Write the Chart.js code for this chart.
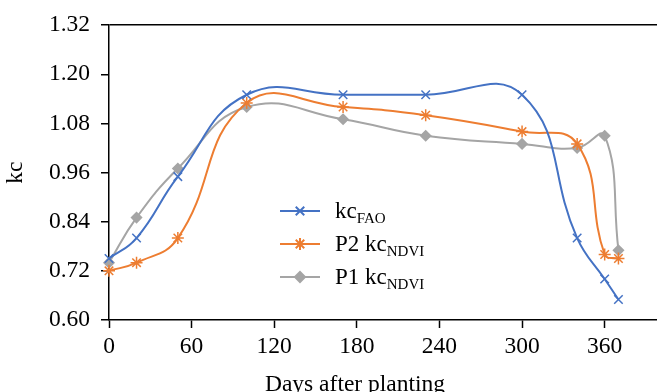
<!DOCTYPE html>
<html>
<head>
<meta charset="utf-8">
<script src="https://cdn.jsdelivr.net/npm/chart.js@4.4.1/dist/chart.umd.min.js"></script>
<style>
  html, body { margin: 0; padding: 0; background: #fff; }
  #wrap { width: 657px; height: 392px; position: relative; }
</style>
</head>
<body>
<div id="wrap"><canvas id="kcChart"></canvas></div>
<script>
// datos
const dias = [0, 20, 50, 100, 170, 230, 300, 340, 360, 370];
const kcFAO = [0.75, 0.80, 0.95, 1.15, 1.15, 1.15, 1.15, 0.80, 0.70, 0.65];
const kcP2 = [0.72, 0.74, 0.80, 1.13, 1.12, 1.10, 1.06, 1.03, 0.76, 0.75];
const kcP1 = [0.74, 0.85, 0.97, 1.12, 1.09, 1.05, 1.03, 1.02, 1.05, 0.77];
const yTicks = [0.60, 0.72, 0.84, 0.96, 1.08, 1.20, 1.32];
const xTicks = [0, 60, 120, 180, 240, 300, 360];

const azul = '#4472C4';
const naranja = '#ED7D31';
const gris = '#A5A5A5';
const fuente = '"Liberation Serif"';

const series = [
    { base: 'kc', sub: 'FAO', data: kcFAO, color: azul, style: 'crossRot', r: 6 },
    { base: 'P2 kc', sub: 'NDVI', data: kcP2, color: naranja, style: 'star', r: 6 },
    { base: 'P1 kc', sub: 'NDVI', data: kcP1, color: gris, style: 'rectRot', r: 5 }
];

// leyenda y titulo del eje x dibujados a mano (subindices)
const extras = {
    id: 'extras',
    afterDraw(chart) {
        const ctx = chart.ctx;
        ctx.save();
        ctx.fillStyle = '#000';
        ctx.font = '23.5px ' + fuente;
        ctx.textAlign = 'center';
        ctx.textBaseline = 'alphabetic';
        ctx.fillText('Days after planting', 355, 391);

        const filas = [211, 244, 277];
        series.forEach((s, i) => {
            const y = filas[i];
            ctx.strokeStyle = s.color;
            ctx.fillStyle = s.color;
            ctx.lineWidth = 2;
            ctx.beginPath();
            ctx.moveTo(280, y);
            ctx.lineTo(320, y);
            ctx.stroke();
            Chart.helpers.drawPoint(ctx, {
                pointStyle: s.style, radius: s.r, borderWidth: 1.5
            }, 300, y);

            ctx.fillStyle = '#000';
            ctx.textAlign = 'left';
            ctx.font = '23px ' + fuente;
            ctx.fillText(s.base, 335, y + 7);
            const w = ctx.measureText(s.base).width;
            ctx.font = '15px ' + fuente;
            ctx.fillText(s.sub, 335 + w, y + 12);
        });
        ctx.restore();
    }
};

function crearGrafico() {
    new Chart(document.getElementById('kcChart'), {
        type: 'line',
        data: {
            datasets: series.map(s => ({
                label: s.base + s.sub,
                data: dias.map((d, i) => ({ x: d, y: s.data[i] })),
                borderColor: s.color,
                backgroundColor: s.color,
                borderWidth: 2,
                pointStyle: s.style,
                pointRadius: s.r,
                pointBorderWidth: 1.5,
                tension: 0.45,
                fill: false,
                clip: false
            }))
        },
        options: {
            responsive: true,
            maintainAspectRatio: false,
            animation: false,
            layout: { autoPadding: false, padding: { top: 23, left: 0, right: 0, bottom: 0 } },
            plugins: {
                legend: { display: false },
                tooltip: { enabled: false }
            },
            scales: {
                x: {
                    type: 'linear',
                    min: 0,
                    max: 398,
                    afterBuildTicks: scale => { scale.ticks = xTicks.map(v => ({ value: v })); },
                    afterFit: scale => { scale.height = 72; },
                    border: { color: '#000', width: 1.5 },
                    grid: { drawOnChartArea: false, drawTicks: true, tickLength: 8, tickColor: '#000', tickWidth: 1.5 },
                    ticks: { color: '#000', font: { family: fuente, size: 23.5 }, padding: 5, maxRotation: 0 }
                },
                y: {
                    min: 0.60,
                    max: 1.32,
                    afterBuildTicks: scale => { scale.ticks = yTicks.map(v => ({ value: v })); },
                    afterFit: scale => { scale.width = 109; },
                    border: { color: '#000', width: 1.5 },
                    grid: {
                        drawOnChartArea: true,
                        color: c => (c.tick && Math.abs(c.tick.value - 1.32) < 1e-6) ? '#000' : 'rgba(0,0,0,0)',
                        lineWidth: 1.5,
                        drawTicks: true, tickLength: 8, tickColor: '#000', tickWidth: 1.5
                    },
                    ticks: {
                        color: '#000', font: { family: fuente, size: 23.5 }, padding: 11,
                        callback: v => Number(v).toFixed(2)
                    },
                    title: { display: true, text: 'kc', color: '#000', font: { family: fuente, size: 23.5 }, padding: 2 }
                }
            }
        },
        plugins: [extras]
    });
}

// esperar la fuente antes de dibujar
if (document.fonts && document.fonts.load) {
    document.fonts.load('23px "Liberation Serif"').then(crearGrafico, crearGrafico);
} else {
    crearGrafico();
}
</script>
</body>
</html>
